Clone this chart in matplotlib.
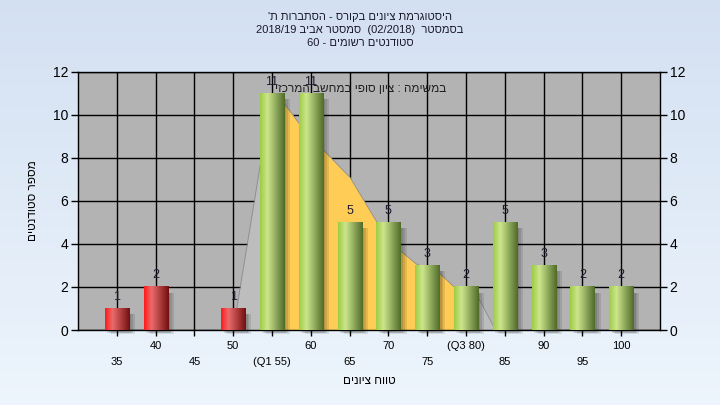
import re
import numpy as np
import matplotlib
matplotlib.use("Agg")
import matplotlib.pyplot as plt
from matplotlib.patches import Rectangle

plt.rcParams['font.family'] = ['Liberation Sans', 'DejaVu Sans']

# data
grades = [35, 40, 45, 50, 55, 60, 65, 70, 75, 80, 85, 90, 95, 100]
counts = [1, 2, 0, 1, 11, 11, 5, 5, 3, 2, 5, 3, 2, 2]
tick_labels = ['35', '40', '45', '50', '(Q1 55)', '60', '65', '70', '75', '(Q3 80)',
               '85', '90', '95', '100']
fail_below = 55

# smoothed distribution drawn behind the bars (category units / students)
curve_pos = [4.0, 5.0, 5.33, 5.70, 6.31, 7.01, 7.71, 8.30, 8.72, 9.31, 9.70, 10.2, 10.76]
curve_val = [0, 11, 10.5, 9.6, 8.4, 7.1, 5.0, 3.7, 3.07, 2.65, 2.0, 1.9, 0]
q1_pos, q3_pos = 5, 10

title_lines = ["היסטוגרמת ציונים בקורס - הסתברות ת'",
               "בסמסטר  (02/2018)  סמסטר אביב 2018/19",
               "סטודנטים רשומים - 60"]
note = "במשימה : ציון סופי במחשב המרכזי"
xlabel = "טווח ציונים"
ylabel = "מספר סטודנטים"


def rtl(s):
    # matplotlib has no bidi: reverse hebrew, keep numbers/latin runs in order
    toks = re.findall(r'[0-9A-Za-z/.]+|.', s)
    mirror = {'(': ')', ')': '('}
    return ''.join(mirror.get(t, t) for t in reversed(toks))


fig = plt.figure(figsize=(7.2, 4.05), dpi=100)

# background gradient
bg = fig.add_axes([0, 0, 1, 1], zorder=-10)
grad = np.linspace(0, 1, 256).reshape(-1, 1)
c_top = np.array([0.83, 0.88, 0.95])
c_bot = np.array([0.93, 0.96, 0.99])
img = c_top + (c_bot - c_top) * grad[:, :, None] * np.ones((1, 2, 1))
bg.imshow(img, aspect='auto', extent=(0, 1, 0, 1))
bg.axis('off')

ax = fig.add_axes([78/720, 1 - 330/405, 582/720, 258/405])
ax.set_facecolor('#b3b3b3')
pos = np.arange(1, len(grades) + 1)

ax.set_xticks(pos)
ax.set_yticks(np.arange(0, 13, 2))
ax.grid(True, color='black', lw=1.0, zorder=1)
ax.set_axisbelow(True)

# area behind bars
cp = np.array(curve_pos)
cv = np.array(curve_val)
xs = np.linspace(cp[0], cp[-1], 600)
ys = np.interp(xs, cp, cv)
ax.fill_between(xs, 0, ys, color='#bdbdbd', lw=0, zorder=2)
ax.fill_between(xs, 0, ys, where=(xs >= q1_pos) & (xs <= q3_pos), color='#ffcc55',
                lw=0, zorder=2.1)
ax.plot(xs, ys, color='#8c8c8c', lw=0.6, zorder=2.2)

# bars with gradient and shadow
w = 0.62
t = np.linspace(0, 1, 64)


def gradient(left, hi, right):
    left, hi, right = np.array(left), np.array(hi), np.array(right)
    out = []
    for v in t:
        if v < 0.3:
            c = left + (hi - left) * v / 0.3
        else:
            c = hi + (right - hi) * (v - 0.3) / 0.7
        out.append(c)
    return np.array(out).reshape(1, -1, 3)


red_img = gradient([1.0, 0.1, 0.1], [0.92, 0.42, 0.42], [0.45, 0.06, 0.06])
green_img = gradient([0.62, 0.80, 0.27], [0.80, 0.90, 0.55], [0.31, 0.42, 0.16])

for p, n, gr in zip(pos, counts, grades):
    if n == 0:
        continue
    for k in range(3):
        d = 0.06 + 0.05 * k
        ax.add_patch(Rectangle((p - w/2 + d, -0.12 - 0.03 * k), w, n - 0.15 + 0.03 * k,
                               color='black', alpha=0.10, lw=0, zorder=2.5, clip_on=False))
    im = red_img if gr < fail_below else green_img
    ax.imshow(im, extent=(p - w/2, p + w/2, 0, n), aspect='auto', zorder=3)
    ax.annotate(str(n), (p, n), xytext=(0, 4), textcoords='offset points',
                ha='center', va='bottom', fontsize=9, color='#1c1c30', zorder=5)
ax.set_xlim(0, len(grades) + 1)
ax.set_ylim(0, 12)

# note sits over the 55/60 labels, as in the original
ax.text(0.632, 0.935, rtl(note), transform=ax.transAxes, ha='right', va='center',
        fontsize=8.5, color='#202020', zorder=6)

# x tick labels on two alternating rows
labs = [l if i % 2 == 1 else '\n' + l for i, l in enumerate(tick_labels)]
ax.set_xticklabels(labs, fontsize=8, linespacing=1.75)
ax.tick_params(axis='x', length=4, width=1, direction='out', pad=4)
ax.tick_params(axis='y', length=5, width=1, direction='out', labelsize=10,
               right=True, labelright=True, pad=2)
for s in ax.spines.values():
    s.set_color('black')
    s.set_linewidth(1.0)

ax.set_xlabel(rtl(xlabel), fontsize=8.5, labelpad=6)
ax.set_ylabel(rtl(ylabel), fontsize=8.5, labelpad=10)

for i, line in enumerate(title_lines):
    fig.text(0.5, 1 - (17 + 13 * i) / 405, rtl(line), ha='center', va='center',
             fontsize=8, color='#1a1a2a')

fig.savefig('out.png', dpi=100)
